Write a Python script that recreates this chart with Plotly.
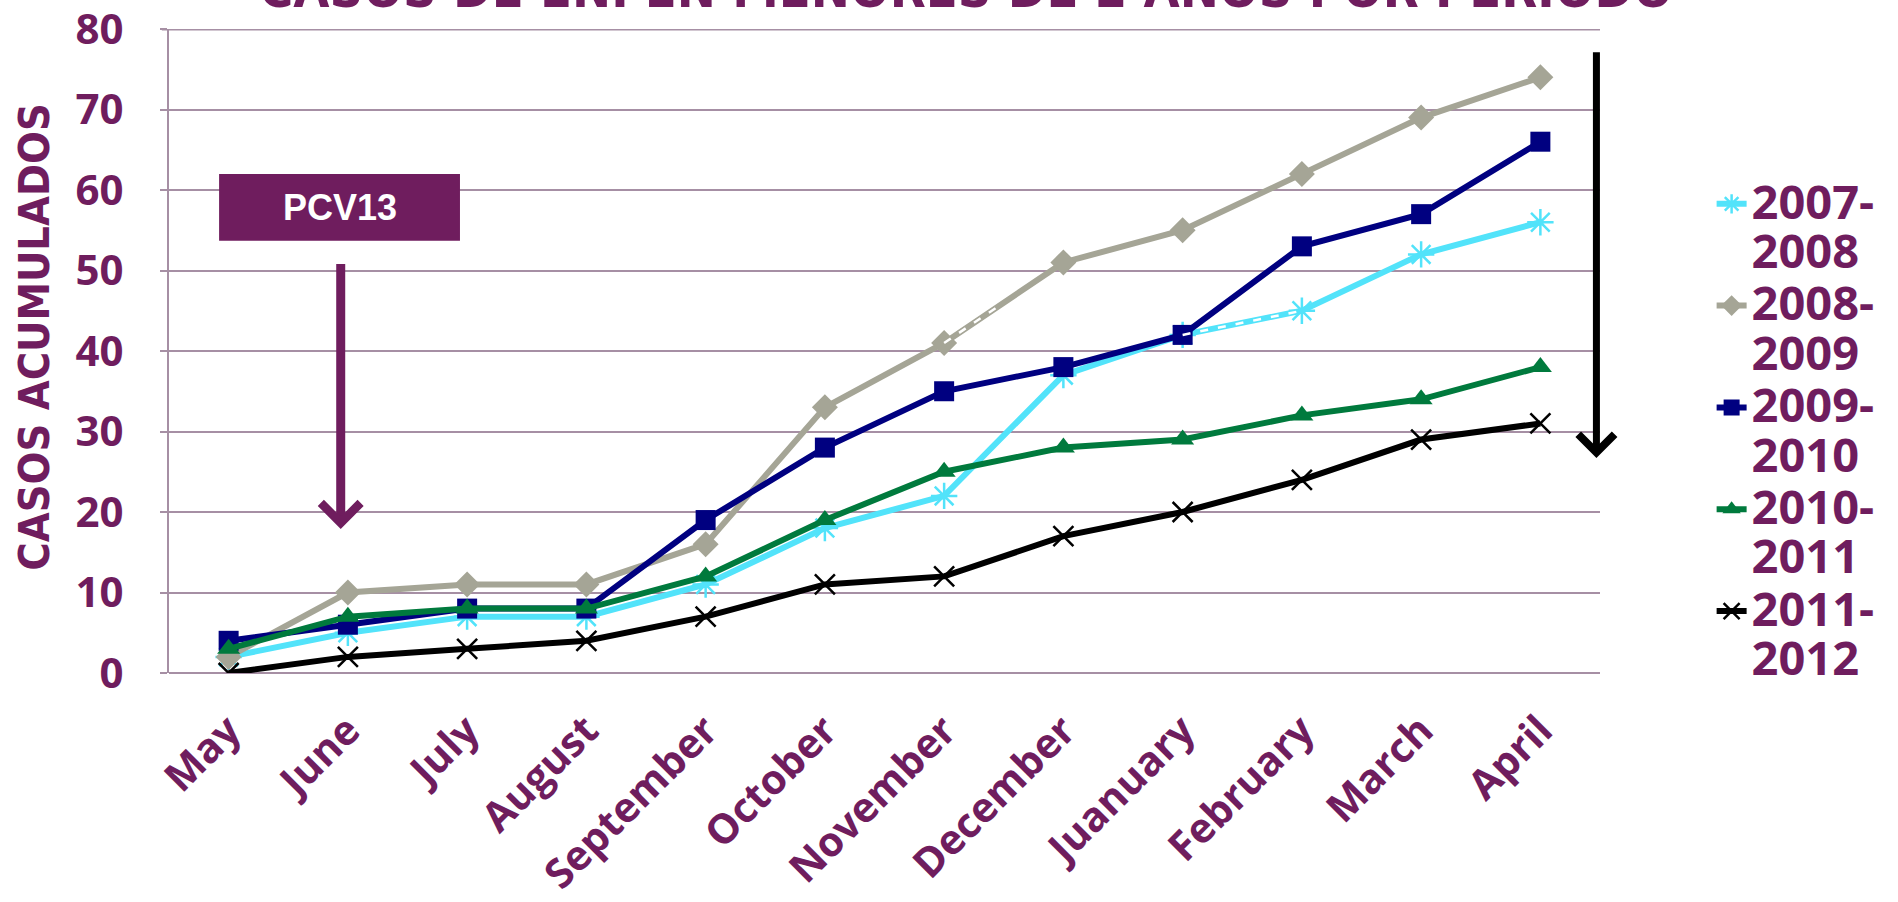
import plotly.graph_objects as go

# Month labels along the x axis (season runs May -> April)
months = ["May", "June", "July", "August", "September", "October",
          "November", "December", "Juanuary", "February", "March", "April"]

# Cumulative cases per season
s_2007_2008 = [2, 5, 7, 7, 11, 18, 22, 37, 42, 45, 52, 56]
s_2008_2009 = [2, 10, 11, 11, 16, 33, 41, 51, 55, 62, 69, 74]
s_2009_2010 = [4, 6, 8, 8, 19, 28, 35, 38, 42, 53, 57, 66]
s_2010_2011 = [3, 7, 8, 8, 12, 19, 25, 28, 29, 32, 34, 38]
s_2011_2012 = [0, 2, 3, 4, 7, 11, 12, 17, 20, 24, 29, 31]

season_names = ["2007-<br>2008", "2008-<br>2009", "2009-<br>2010",
                "2010-<br>2011", "2011-<br>2012"]

y_ticks = [0, 10, 20, 30, 40, 50, 60, 70, 80]

PURPLE = "#6F1D5E"
GRID = "#A68FA4"
FONT_MAIN = "Open Sans"
FONT_NARROW = "DejaVu Sans Condensed, Liberation Sans Narrow, Liberation Sans"

x_idx = list(range(len(months)))

styles = [
    dict(color="#52E3FA", symbol="asterisk-open", size=22, mline=2.5),
    dict(color="#A5A596", symbol="diamond", size=20, mline=0),
    dict(color="#000080", symbol="square", size=20, mline=0),
    dict(color="#007A3D", symbol="triangle-up", size=20, mline=0),
    dict(color="#000000", symbol="x-thin-open", size=20, mline=2.5),
]
series = [s_2007_2008, s_2008_2009, s_2009_2010, s_2010_2011, s_2011_2012]


def legend_label(txt):
    # larger glyphs inside a tighter line pitch
    return f'<span style="font-size:47px">{txt}</span>'


fig = go.Figure()
for name, vals, st in zip(season_names, series, styles):
    fig.add_trace(go.Scatter(
        x=x_idx, y=vals, name=legend_label(name), mode="lines+markers",
        line=dict(color=st["color"], width=6),
        marker=dict(symbol=st["symbol"], size=st["size"], color=st["color"],
                    line=dict(color=st["color"], width=st["mline"])),
    ))

# white dashed strokes crossing the lines between November and February
fig.add_trace(go.Scatter(
    x=x_idx[8:10], y=s_2007_2008[8:10], mode="lines", showlegend=False,
    line=dict(color="white", width=2.5, dash="8px,10px"), hoverinfo="skip"))
g0, g1 = s_2008_2009[6], s_2008_2009[7]
fig.add_shape(type="line", xref="x", yref="y",
              x0=6, y0=g0, x1=6.5, y1=g0 + 0.5 * (g1 - g0),
              line=dict(color="white", width=2.5, dash="8px,10px"))

fig.update_layout(
    width=1898, height=902,
    margin=dict(l=169, r=298, t=29, b=229, autoexpand=False),
    paper_bgcolor="white", plot_bgcolor="white",
    showlegend=True,
    legend=dict(
        x=1.078, xanchor="left", y=0.777, yanchor="top",
        font=dict(family=FONT_MAIN, size=38, color=PURPLE, weight="bold"),
        valign="top", bgcolor="rgba(0,0,0,0)", tracegroupgap=0,
        itemwidth=30,
    ),
    xaxis=dict(
        range=[-0.5, 11.5], tickmode="array", tickvals=x_idx, ticktext=months,
        tickangle=-45, showgrid=False, zeroline=False,
        showline=False, ticks="", automargin=False,
        ticklabeloverflow="allow",
        tickfont=dict(family=FONT_MAIN, size=41, color=PURPLE, weight="bold"),
        ticklabelstandoff=24,
    ),
    yaxis=dict(
        range=[0, 80], tickmode="array", tickvals=y_ticks,
        showgrid=True, gridcolor=GRID, gridwidth=2,
        zeroline=True, zerolinecolor=GRID, zerolinewidth=2,
        showline=True, linecolor=GRID, linewidth=2,
        ticks="outside", ticklen=7, tickcolor=GRID, tickwidth=2,
        automargin=False, ticklabeloverflow="allow",
        tickfont=dict(family=FONT_MAIN, size=42, color=PURPLE, weight="bold"),
        ticklabelstandoff=28,
    ),
)

# gridline at the top of the value range
fig.add_shape(type="line", xref="paper", yref="y", x0=-0.005, x1=1, y0=80, y1=80,
              line=dict(color=GRID, width=3), layer="below")

# y axis title
fig.add_annotation(
    text="CASOS ACUMULADOS", xref="paper", yref="paper",
    x=-0.094, y=0.523, xanchor="center", yanchor="middle",
    textangle=-90, showarrow=False,
    font=dict(family=FONT_NARROW, size=43, color=PURPLE, weight="bold"),
)

# chart title, running off the top edge
fig.add_annotation(
    text="CASOS DE ENI EN MENORES DE 2 AÑOS POR PERIODO",
    xref="paper", yref="paper", x=0.557, y=1.012, xanchor="center",
    yanchor="bottom", showarrow=False,
    font=dict(family=FONT_NARROW, size=52, color=PURPLE, weight="bold"),
)

# PCV13 label box
fig.add_shape(type="rect", xref="x", yref="y",
              x0=-0.08, x1=1.94, y0=53.7, y1=62.0,
              fillcolor=PURPLE, line=dict(width=0), layer="above")
fig.add_annotation(
    text="PCV13", xref="x", yref="y", x=0.93, y=57.85, showarrow=False,
    font=dict(family="Liberation Sans", size=36, color="white", weight="bold"),
)

# purple arrow pointing down at June
fig.add_annotation(
    xref="x", yref="y", x=0.94, y=17.9, ax=0.94, ay=51.0,
    axref="x", ayref="y", text="", showarrow=True,
    arrowhead=4, arrowsize=0.85, arrowwidth=9, arrowcolor=PURPLE,
)

# black arrow on the right edge
fig.add_annotation(
    xref="x", yref="y", x=11.47, y=26.7, ax=11.47, ay=77.3,
    axref="x", ayref="y", text="", showarrow=True,
    arrowhead=4, arrowsize=1.0, arrowwidth=7, arrowcolor="black",
)

fig.write_html("out.html")
